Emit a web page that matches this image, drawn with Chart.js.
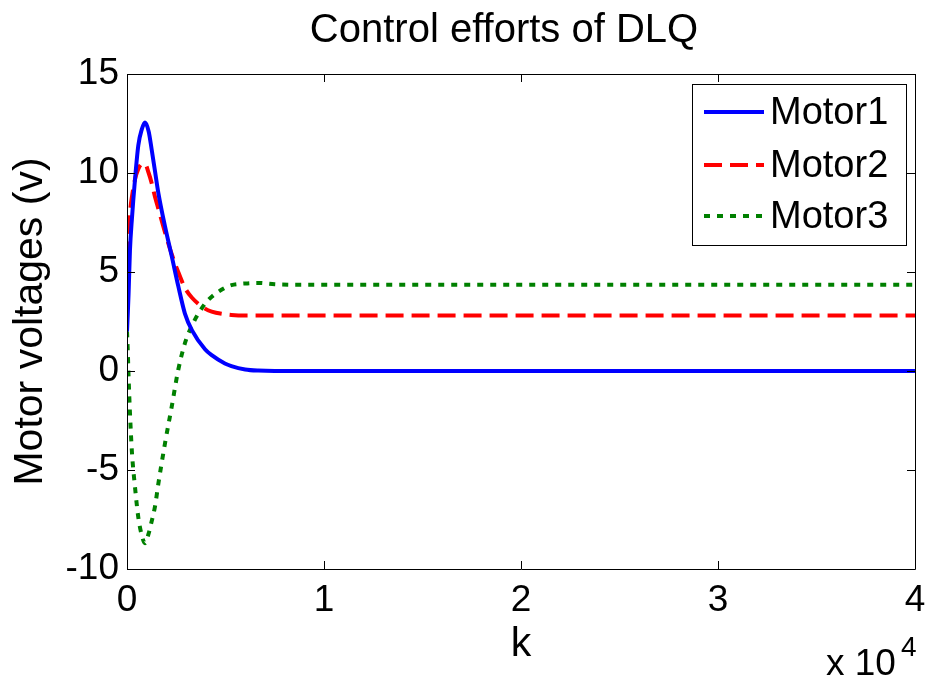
<!DOCTYPE html>
<html><head><meta charset="utf-8">
<script src="https://cdn.jsdelivr.net/npm/chart.js@4.4.1/dist/chart.umd.min.js"></script>
<style>html,body{margin:0;padding:0;background:#fff}#wrap{width:927px;height:682px}</style>
</head><body><div id="wrap"><canvas id="c" width="927" height="682"></canvas></div>
<script>
const kSteps = [0, 40, 80, 150, 250, 400, 575, 750, 914, 1100, 1250, 1420, 1590, 1930, 2270, 2600, 2940, 3300, 3960, 4300, 4970, 5300, 6000, 6660, 7500, 8700, 10000, 20000, 30000, 40000];
const motor1 = [2.0, 2.9, 3.9, 6.1, 7.7, 9.6, 11.4, 12.2, 12.55, 12.1, 11.2, 10.1, 9.0, 7.3, 5.8, 4.3, 2.9, 2.05, 1.1, 0.8, 0.38, 0.25, 0.08, 0.02, 0, 0, 0, 0, 0, 0];
const motor2 = [3.0, 6.2, 7.0, 8.0, 8.8, 9.65, 10.2, 10.45, 10.45, 10.0, 9.5, 8.8, 8.2, 7.0, 5.9, 5.0, 4.2, 3.7, 3.15, 3.0, 2.87, 2.83, 2.8, 2.8, 2.8, 2.8, 2.8, 2.8, 2.8, 2.8];
const motor3 = [2.0, 1.0, -0.3, -2.1, -4.1, -5.8, -7.4, -8.3, -8.7, -8.2, -7.6, -6.85, -5.7, -3.65, -1.8, 0.05, 1.4, 2.3, 3.4, 3.75, 4.2, 4.34, 4.42, 4.45, 4.38, 4.35, 4.35, 4.35, 4.35, 4.35];
const seriesNames = ['Motor1', 'Motor2', 'Motor3'];
const xTickValues = [0, 10000, 20000, 30000, 40000];
const yTickValues = [-10, -5, 0, 5, 10, 15];
const chartTitle = 'Control efforts of DLQ';

const FONT = "'Liberation Sans', Arial, Helvetica, sans-serif";
const toPts = arr => arr.map((v, i) => ({x: kSteps[i], y: v}));

const framePlugin = {
  id: 'frame',
  afterDraw(chart) {
    const {ctx, chartArea: a, scales} = chart;
    ctx.save();
    // title
    ctx.fillStyle = '#000';
    ctx.font = '40px ' + FONT;
    ctx.textAlign = 'center';
    ctx.textBaseline = 'alphabetic';
    ctx.fillText(chartTitle, 504, 42);

    ctx.strokeStyle = '#000';
    ctx.lineWidth = 1;
    ctx.beginPath();
    ctx.rect(Math.round(a.left) + 0.5, Math.round(a.top) + 0.5, Math.round(a.right - a.left), Math.round(a.bottom - a.top));
    ctx.stroke();
    const tl = 8;
    ctx.beginPath();
    xTickValues.forEach(v => {
      const px = Math.round(scales.x.getPixelForValue(v)) + 0.5;
      ctx.moveTo(px, a.bottom); ctx.lineTo(px, a.bottom - tl);
      ctx.moveTo(px, a.top); ctx.lineTo(px, a.top + tl);
    });
    yTickValues.forEach(v => {
      const py = Math.round(scales.y.getPixelForValue(v)) + 0.5;
      ctx.moveTo(a.left, py); ctx.lineTo(a.left + tl, py);
      ctx.moveTo(a.right, py); ctx.lineTo(a.right - tl, py);
    });
    ctx.stroke();

    // legend
    const lx = 692.5, ly = 84.5, lw = 214, lh = 161;
    ctx.fillStyle = '#fff';
    ctx.fillRect(lx, ly, lw, lh);
    ctx.strokeRect(lx, ly, lw, lh);
    const rows = [112, 165, 216];
    ctx.font = '38px ' + FONT;
    ctx.textBaseline = 'middle';
    ctx.textAlign = 'left';
    chart.data.datasets.forEach((ds, i) => {
      ctx.save();
      ctx.strokeStyle = ds.borderColor;
      ctx.lineWidth = ds.borderWidth;
      ctx.setLineDash(ds.borderDash || []);
      ctx.beginPath();
      ctx.moveTo(704, rows[i]); ctx.lineTo(764, rows[i]);
      ctx.stroke();
      ctx.restore();
      ctx.fillStyle = '#000';
      ctx.fillText(ds.label, 770, rows[i] + 2);
    });

    // x 10^4 multiplier
    ctx.textBaseline = 'alphabetic';
    ctx.font = '37px ' + FONT;
    ctx.fillText('x 10', 826, 675);
    ctx.font = '28px ' + FONT;
    ctx.fillText('4', 901, 656);
    ctx.restore();
  }
};

new Chart(document.getElementById('c'), {
  type: 'line',
  data: {
    datasets: [
      {label: seriesNames[0], data: toPts(motor1), borderColor: '#0000ff', borderWidth: 4, pointRadius: 0, cubicInterpolationMode: 'monotone', fill: false},
      {label: seriesNames[1], data: toPts(motor2), borderColor: '#ff0000', borderWidth: 4, borderDash: [18, 8], pointRadius: 0, cubicInterpolationMode: 'monotone', fill: false},
      {label: seriesNames[2], data: toPts(motor3), borderColor: '#008000', borderWidth: 4, borderDash: [6, 7], pointRadius: 0, cubicInterpolationMode: 'monotone', fill: false}
    ]
  },
  options: {
    responsive: false,
    animation: false,
    devicePixelRatio: 1,
    layout: {padding: {left: 0, right: 12, top: 74, bottom: 0}},
    plugins: {
      legend: {display: false},
      tooltip: {enabled: false},
      title: {display: false}
    },
    scales: {
      x: {
        type: 'linear', min: 0, max: 40000,
        afterBuildTicks: s => { s.ticks = xTickValues.map(v => ({value: v})); },
        afterFit: s => { s.height = 113; s.paddingLeft = 0; s.paddingRight = 0; },
        grid: {display: false, drawTicks: false},
        border: {display: false},
        ticks: {color: '#000', font: {family: FONT, size: 37}, padding: 10, maxRotation: 0, callback: v => String(v / 10000)},
        title: {display: true, text: 'k', color: '#000', font: {family: FONT, size: 41}, padding: {top: 0, bottom: 13}}
      },
      y: {
        type: 'linear', min: -10, max: 15,
        afterBuildTicks: s => { s.ticks = yTickValues.map(v => ({value: v})); },
        afterFit: s => { s.width = 127; s.paddingTop = 0; s.paddingBottom = 0; },
        grid: {display: false, drawTicks: false},
        border: {display: false},
        ticks: {color: '#000', font: {family: FONT, size: 37}, padding: 8},
        title: {display: true, text: 'Motor voltages (v)', color: '#000', font: {family: FONT, size: 41}, padding: {top: 6, bottom: 0}}
      }
    }
  },
  plugins: [framePlugin]
});
</script></body></html>
